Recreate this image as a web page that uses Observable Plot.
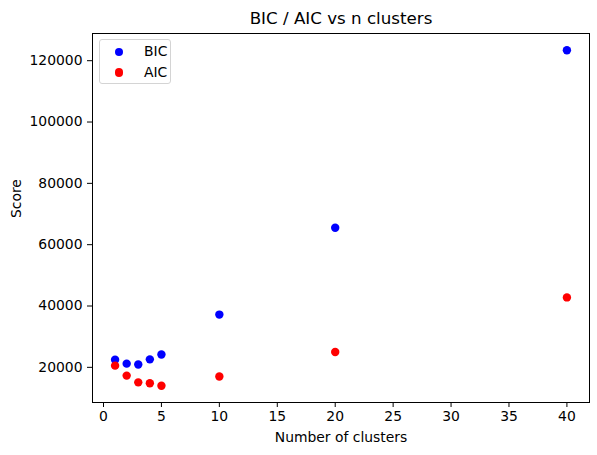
<!DOCTYPE html>
<html>
<head>
<meta charset="utf-8">
<script src="https://cdn.jsdelivr.net/npm/d3@7"></script>
<script src="https://cdn.jsdelivr.net/npm/@observablehq/plot@0.6"></script>
<style>
  html, body { margin: 0; padding: 0; background: #fff; }
  #wrap { position: relative; width: 597px; height: 455px; font-family: "DejaVu Sans", sans-serif; }
  #legend { position: absolute; left: 99px; top: 39px; width: 72px; height: 45px; box-sizing: border-box;
    border: 1px solid #d4d4d4; border-radius: 3px; background: rgba(255,255,255,0.8); }
  .lg-row { position: absolute; left: 0; height: 20px; display: flex; align-items: center; font-size: 13.9px; color: #000; }
  .lg-dot { position: absolute; width: 8.4px; height: 8.4px; border-radius: 50%; }
  .lg-txt { position: absolute; white-space: nowrap; }
</style>
</head>
<body>
<div id="wrap"><div id="legend"></div></div>
<script>
const clusters = [1, 2, 3, 4, 5, 10, 20, 40];
const bicValues = [22500, 21200, 20900, 22600, 24200, 37200, 65500, 123400];
const aicValues = [20550, 17300, 15100, 14800, 14000, 17000, 25000, 42800];
const seriesNames = ["BIC", "AIC"];
const seriesColors = ["blue", "red"];
const xTicks = [0, 5, 10, 15, 20, 25, 30, 35, 40];
const yTicks = [20000, 40000, 60000, 80000, 100000, 120000];
const titleText = "BIC / AIC vs n clusters";
const xLabel = "Number of clusters";
const yLabel = "Score";

const rows = [];
clusters.forEach((c, i) => rows.push({n: c, score: bicValues[i], series: "BIC"}));
clusters.forEach((c, i) => rows.push({n: c, score: aicValues[i], series: "AIC"}));

const xmin = d3.min(clusters), xmax = d3.max(clusters);
const allY = bicValues.concat(aicValues);
const ymin = d3.min(allY), ymax = d3.max(allY);
const xm = (xmax - xmin) * 0.05, ym = (ymax - ymin) * 0.05;

const chart = Plot.plot({
  width: 597,
  height: 455,
  marginLeft: 92,
  marginRight: 8,
  marginTop: 33,
  marginBottom: 53,
  style: {fontFamily: "DejaVu Sans, sans-serif", fontSize: "13.9px", color: "#000", background: "#fff"},
  x: {domain: [xmin - xm, xmax + xm]},
  y: {domain: [ymin - ym, ymax + ym]},
  color: {domain: seriesNames, range: seriesColors},
  marks: [
    Plot.dot(rows, {x: "n", y: "score", fill: "series", r: 4.2, stroke: null}),
    Plot.frame({stroke: "#000", strokeWidth: 1}),
    Plot.axisX({ticks: xTicks, tickSize: 5, tickPadding: 4, label: null, tickFormat: d => String(d), fontSize: 13.9, stroke: "#000", fill: "#000"}),
    Plot.axisY({ticks: yTicks, tickSize: 5, tickPadding: 5, label: null, tickFormat: d => String(d), fontSize: 13.9, stroke: "#000", fill: "#000"}),
    Plot.text([titleText], {frameAnchor: "top", lineAnchor: "middle", dy: -15, fontSize: 16.7, fill: "#000"}),
    Plot.text([xLabel], {frameAnchor: "bottom", lineAnchor: "middle", dy: 35, fontSize: 13.9, fill: "#000"}),
    Plot.text([yLabel], {frameAnchor: "left", lineAnchor: "middle", dx: -76, rotate: -90, fontSize: 13.9, fill: "#000"})
  ]
});
const wrap = document.getElementById("wrap");
wrap.insertBefore(chart, wrap.firstChild);

const legend = document.getElementById("legend");
seriesNames.forEach((name, i) => {
  const row = document.createElement("div");
  row.className = "lg-row";
  row.style.top = (2 + i * 20.5) + "px";
  row.style.width = "70px";
  const dot = document.createElement("div");
  dot.className = "lg-dot";
  dot.style.background = seriesColors[i];
  dot.style.left = "14.6px";
  dot.style.top = "5.8px";
  const txt = document.createElement("span");
  txt.className = "lg-txt";
  txt.textContent = name;
  txt.style.left = "44px";
  txt.style.top = "1px";
  row.appendChild(dot);
  row.appendChild(txt);
  legend.appendChild(row);
});
</script>
</body>
</html>
